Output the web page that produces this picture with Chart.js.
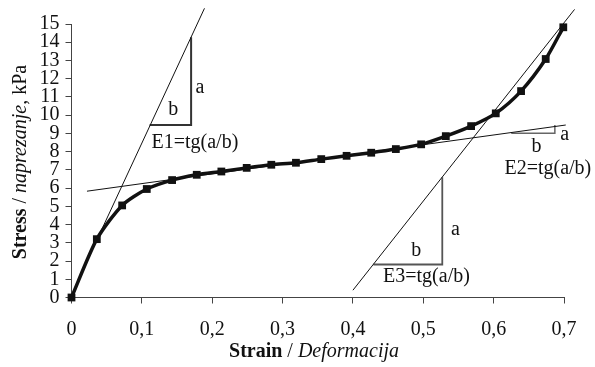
<!DOCTYPE html>
<html>
<head>
<meta charset="utf-8">
<script src="https://cdn.jsdelivr.net/npm/chart.js@4"></script>
<style>
  body { margin: 0; background: #fff; }
  canvas { display: block; }
</style>
</head>
<body>
<canvas id="chart" width="595" height="367"></canvas>
<script>
// measured curve
const strain = [0, 0.036, 0.072, 0.107, 0.143, 0.178, 0.213, 0.249, 0.284, 0.319, 0.355,
  0.391, 0.426, 0.461, 0.497, 0.532, 0.568, 0.603, 0.639, 0.674, 0.699];
const stress = [0, 3.2, 5.05, 5.95, 6.44, 6.73, 6.91, 7.11, 7.28, 7.39, 7.59,
  7.77, 7.94, 8.14, 8.4, 8.85, 9.4, 10.1, 11.32, 13.08, 14.82];

// tangent lines (E1, E2, E3)
const tangent1X = [0.033, 0.189];
const tangent1Y = [2.9, 15.86];
const tangent2X = [0.022, 0.7025];
const tangent2Y = [5.83, 9.46];
const tangent3X = [0.4, 0.715];
const tangent3Y = [0.4, 15.8];

// slope triangles: horizontal leg then vertical leg
const tri1X = [0.111, 0.170, 0.170];
const tri1Y = [9.46, 9.46, 14.27];
const tri2X = [0.625, 0.687, 0.687];
const tri2Y = [9.01, 9.01, 9.46];
const tri3X = [0.429, 0.527, 0.527];
const tri3Y = [1.81, 1.81, 6.6];

// labels: text, x, y (data units)
const noteText = ['a', 'b', 'E1=tg(a/b)', 'a', 'b', 'E2=tg(a/b)', 'a', 'b', 'E3=tg(a/b)'];
const noteX = [0.1825, 0.1446, 0.1754, 0.701, 0.661, 0.677, 0.5457, 0.49, 0.5045];
const noteY = [11.53, 10.29, 8.46, 8.91, 8.27, 7.05, 3.74, 2.55, 1.15];

const xTicks = [0, 0.1, 0.2, 0.3, 0.4, 0.5, 0.6, 0.7];

const FONT = '"Liberation Serif", "Times New Roman", serif';

const pts = (xs, ys) => xs.map((x, i) => ({x: x, y: ys[i]}));

const thin = (xs, ys, width, color) => ({
  data: pts(xs, ys),
  borderColor: color,
  borderWidth: width,
  pointRadius: 0,
  tension: 0,
  clip: false,
  order: 2
});

const drawRuns = (ctx, runs, cx, cy) => {
  let total = 0;
  runs.forEach(r => { ctx.font = r.font; total += ctx.measureText(r.text).width; });
  let x = cx - total / 2;
  runs.forEach(r => {
    ctx.font = r.font;
    ctx.fillText(r.text, x, cy);
    x += ctx.measureText(r.text).width;
  });
};

const annotations = {
  id: 'annotations',
  afterDraw(chart) {
    const {ctx, scales} = chart;
    ctx.save();
    ctx.fillStyle = '#111';
    ctx.textBaseline = 'middle';
    ctx.textAlign = 'left';
    noteText.forEach((t, i) => {
      ctx.font = '20px ' + FONT;
      const w = ctx.measureText(t).width;
      ctx.fillText(t, scales.x.getPixelForValue(noteX[i]) - w / 2, scales.y.getPixelForValue(noteY[i]));
    });

    // x axis title
    drawRuns(ctx, [
      {text: 'Strain', font: 'bold 20px ' + FONT},
      {text: ' / ', font: '20px ' + FONT},
      {text: 'Deformacija', font: 'italic 20px ' + FONT}
    ], 314, 352);

    // y axis title
    ctx.translate(21, 162);
    ctx.rotate(-Math.PI / 2);
    drawRuns(ctx, [
      {text: 'Stress', font: 'bold 20px ' + FONT},
      {text: ' / ', font: '20px ' + FONT},
      {text: 'naprezanje', font: 'italic 20px ' + FONT},
      {text: ', kPa', font: '20px ' + FONT}
    ], 0, 0);
    ctx.restore();
  }
};

new Chart(document.getElementById('chart'), {
  type: 'line',
  data: {
    datasets: [
      {
        data: pts(strain, stress),
        borderColor: '#111',
        backgroundColor: '#111',
        borderWidth: 3.5,
        pointStyle: 'rect',
        pointRadius: 5.5,
        pointBackgroundColor: '#111',
        pointBorderWidth: 0,
        tension: 0.25,
        clip: false,
        order: 1
      },
      thin(tangent1X, tangent1Y, 1, '#111'),
      thin(tangent2X, tangent2Y, 1, '#111'),
      thin(tangent3X, tangent3Y, 1, '#111'),
      thin(tri1X, tri1Y, 2, '#333'),
      thin(tri2X, tri2Y, 1.5, '#666'),
      thin(tri3X, tri3Y, 1.8, '#555')
    ]
  },
  options: {
    responsive: false,
    animation: false,
    layout: {padding: {top: 24, right: 31, left: 0, bottom: 0}},
    plugins: {
      legend: {display: false},
      tooltip: {enabled: false}
    },
    scales: {
      x: {
        type: 'linear',
        min: 0,
        max: 0.7,
        afterFit: s => { s.height = 69.5; },
        afterBuildTicks: s => { s.ticks = xTicks.map(v => ({value: v})); },
        grid: {drawOnChartArea: false, drawTicks: true, tickLength: 6, color: '#444'},
        border: {display: true, color: '#444', width: 1},
        ticks: {
          color: '#111',
          padding: 14,
          maxRotation: 0,
          font: {family: FONT, size: 20},
          callback: v => v === 0 ? '0' : v.toFixed(1).replace('.', ',')
        }
      },
      y: {
        type: 'linear',
        min: 0,
        max: 15,
        afterFit: s => { s.width = 71.5; },
        grid: {drawOnChartArea: false, drawTicks: true, tickLength: 6, color: '#444'},
        border: {display: true, color: '#444', width: 1},
        ticks: {
          color: '#111',
          stepSize: 1,
          padding: 6,
          autoSkip: false,
          font: {family: FONT, size: 20}
        }
      }
    }
  },
  plugins: [annotations]
});
</script>
</body>
</html>
